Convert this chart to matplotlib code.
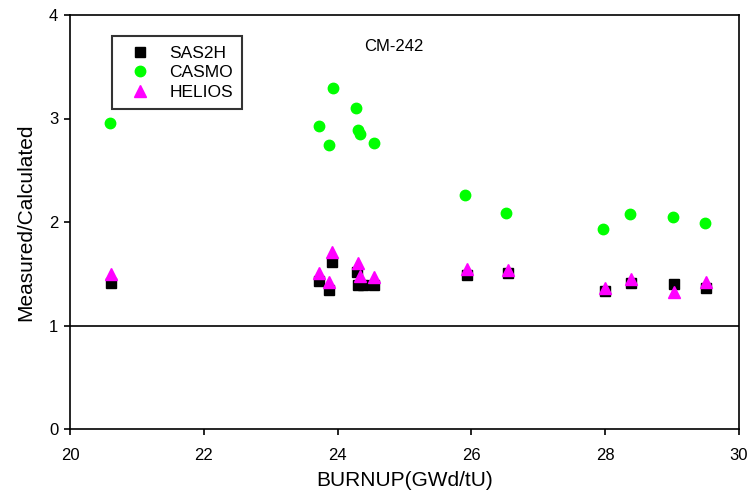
import matplotlib.pyplot as plt

plt.rcParams['font.family'] = ['Liberation Sans', 'DejaVu Sans']

# SAS2H
sas_x = [20.61, 23.92, 23.72, 23.87, 24.29, 24.30, 24.38, 24.55, 25.93, 26.54, 27.99, 28.39, 29.03, 29.51]
sas_y = [1.41, 1.61, 1.43, 1.34, 1.52, 1.39, 1.39, 1.39, 1.49, 1.51, 1.33, 1.41, 1.40, 1.36]

# CASMO
casmo_x = [20.60, 23.93, 24.28, 23.72, 24.30, 24.34, 23.87, 24.54, 25.91, 26.52, 27.97, 28.37, 29.01, 29.49]
casmo_y = [2.96, 3.29, 3.10, 2.93, 2.89, 2.85, 2.74, 2.76, 2.26, 2.09, 1.93, 2.08, 2.05, 1.99]

# HELIOS
helios_x = [20.61, 23.92, 23.72, 23.87, 24.30, 24.33, 24.55, 25.93, 26.54, 27.99, 28.39, 29.03, 29.51]
helios_y = [1.50, 1.71, 1.51, 1.42, 1.60, 1.48, 1.47, 1.55, 1.54, 1.36, 1.45, 1.32, 1.42]

fig = plt.figure(figsize=(7.52, 4.93), dpi=100)
ax = fig.add_axes([70/752, 1 - 429/493, 669/752, 414/493])

ax.plot(sas_x, sas_y, 's', color='black', markersize=7, label='SAS2H', zorder=3)
ax.plot(casmo_x, casmo_y, 'o', color='#00ff00', markersize=7.5, label='CASMO', zorder=3)
ax.plot(helios_x, helios_y, '^', color='#ff00ff', markersize=9, label='HELIOS', zorder=4)

ax.axhline(1, color='black', linewidth=1.2, zorder=2)

ax.set_xlim(20, 30)
ax.set_ylim(0, 4)
ax.set_xticks([20, 22, 24, 26, 28, 30])
ax.set_yticks([0, 1, 2, 3, 4])
ax.tick_params(axis='x', direction='out', length=4.5, width=1.2, labelsize=12, pad=9)
ax.tick_params(axis='y', direction='out', length=4.5, width=1.2, labelsize=12, pad=4)
for s in ax.spines.values():
    s.set_linewidth(1.2)

ax.set_xlabel('BURNUP(GWd/tU)', fontsize=15, labelpad=6)
ax.set_ylabel('Measured/Calculated', fontsize=15, labelpad=9.5)
ax.text(0.484, 0.925, 'CM-242', transform=ax.transAxes, fontsize=12, ha='center', va='center')

leg = ax.legend(loc='upper left', bbox_to_anchor=(0.0627, 0.949), fontsize=12.5, frameon=True,
                fancybox=False, edgecolor='black', handletextpad=0.57, borderpad=0.55,
                labelspacing=0.25, handlelength=2.18, borderaxespad=0)
leg.get_frame().set_linewidth(1.5)

fig.savefig('out.png', dpi=100)
